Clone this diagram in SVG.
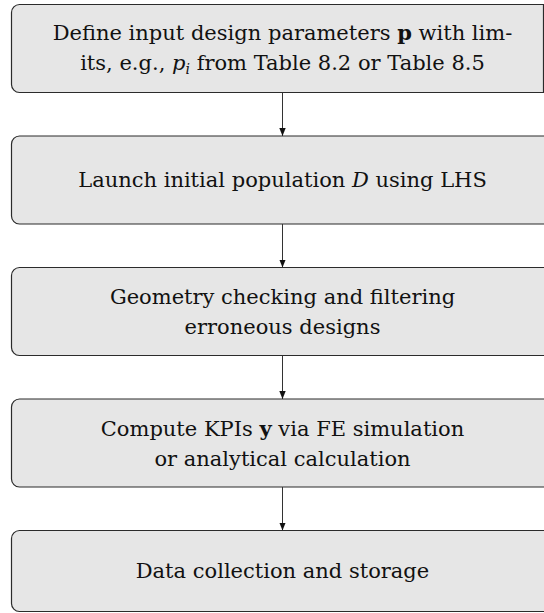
<svg xmlns="http://www.w3.org/2000/svg" width="544" height="613" viewBox="0 0 544 613">
  <style>
    .box { fill: #e6e6e6; stroke: #2b2b2b; stroke-width: 1.2; }
    .lbl { font-family: "DejaVu Serif", "Liberation Serif", serif; font-size: 21px; fill: #111; text-anchor: middle; }
    .b { font-weight: bold; }
    .m { font-style: italic; }
    .edge { stroke: #333; stroke-width: 1; fill: none; }
  </style>
  <defs>
    <marker id="arrow" viewBox="0 0 8 8" refX="8" refY="4" markerWidth="8" markerHeight="8" markerUnits="userSpaceOnUse" orient="auto">
      <path d="M0,0.8 L8,4 L0,7.2 Z" fill="#111"/>
    </marker>
  </defs>

  <!-- process steps -->
  <g id="step-define">
    <rect class="box" x="11.5" y="4.5" width="545" height="88" rx="8"/>
    <line x1="543.5" y1="4.5" x2="543.5" y2="92.5" stroke="#2b2b2b" stroke-width="1.2"/>
    <text class="lbl" x="282.5" y="39.5">Define input design parameters <tspan class="b">p</tspan> with lim-</text>
    <text class="lbl" x="282.5" y="69.5">its, e.g., <tspan class="m">p</tspan><tspan class="m" font-size="14" dy="4">i</tspan><tspan dy="-4"> from Table 8.2 or Table 8.5</tspan></text>
  </g>

  <g id="step-launch">
    <rect class="box" x="11.5" y="136" width="545" height="88" rx="8"/>
    <text class="lbl" x="282.5" y="187">Launch initial population <tspan class="m">D</tspan> using LHS</text>
  </g>

  <g id="step-geometry">
    <rect class="box" x="11.5" y="267.5" width="545" height="88" rx="8"/>
    <text class="lbl" x="282.5" y="304">Geometry checking and filtering</text>
    <text class="lbl" x="282.5" y="334">erroneous designs</text>
  </g>

  <g id="step-kpi">
    <rect class="box" x="11.5" y="399" width="545" height="88" rx="8"/>
    <text class="lbl" x="282.5" y="435.5">Compute KPIs <tspan class="b">y</tspan> via FE simulation</text>
    <text class="lbl" x="282.5" y="465.5">or analytical calculation</text>
  </g>

  <g id="step-storage">
    <rect class="box" x="11.5" y="530.5" width="545" height="81" rx="8"/>
    <text class="lbl" x="282.5" y="578">Data collection and storage</text>
  </g>

  <!-- connectors -->
  <g id="connectors">
    <line class="edge" x1="282.5" y1="92.5" x2="282.5" y2="136" marker-end="url(#arrow)"/>
    <line class="edge" x1="282.5" y1="224" x2="282.5" y2="267.5" marker-end="url(#arrow)"/>
    <line class="edge" x1="282.5" y1="355.5" x2="282.5" y2="399" marker-end="url(#arrow)"/>
    <line class="edge" x1="282.5" y1="487" x2="282.5" y2="530.5" marker-end="url(#arrow)"/>
  </g>
</svg>
